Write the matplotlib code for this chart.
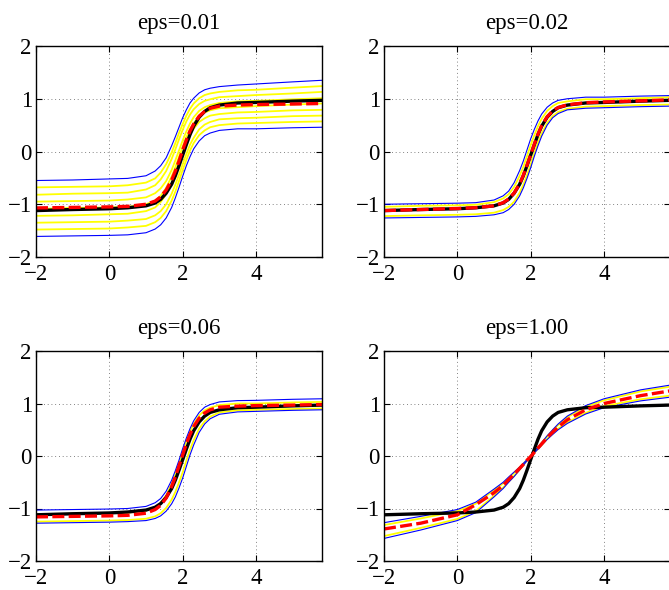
import numpy as np
import matplotlib
matplotlib.use('Agg')
import matplotlib.pyplot as plt

plt.rcParams['font.family'] = ['Liberation Serif', 'DejaVu Serif']

# common x grid (values at these x)
x = [-2, -1, 0, 0.5, 1, 1.25, 1.4, 1.55, 1.7, 1.8, 1.9, 2.0, 2.1, 2.2, 2.3, 2.45,
     2.6, 2.75, 3, 3.5, 4, 5, 5.8]

# true curve (black, same in every panel)
true_y = [-1.12, -1.10, -1.085, -1.067, -1.03, -0.976, -0.907, -0.79, -0.62, -0.46, -0.27,
          -0.07, 0.13, 0.32, 0.48, 0.65, 0.76, 0.83, 0.88, 0.92, 0.93, 0.955, 0.97]

titles = ['eps=0.01', 'eps=0.02', 'eps=0.06', 'eps=1.00']

# eps=0.01
mean_1 = [-1.07, -1.06, -1.05, -1.04, -1.00, -0.94, -0.86, -0.73, -0.54, -0.37, -0.18,
          0.03, 0.22, 0.39, 0.52, 0.67, 0.76, 0.82, 0.86, 0.88, 0.89, 0.90, 0.91]
upper_1 = [-0.55, -0.54, -0.52, -0.51, -0.46, -0.37, -0.27, -0.12, 0.11, 0.28, 0.46,
           0.64, 0.79, 0.92, 1.01, 1.11, 1.17, 1.20, 1.23, 1.26, 1.28, 1.32, 1.35]
lower_1 = [-1.61, -1.60, -1.59, -1.58, -1.54, -1.47, -1.39, -1.26, -1.06, -0.88, -0.68,
           -0.47, -0.27, -0.10, 0.05, 0.20, 0.30, 0.35, 0.40, 0.43, 0.43, 0.45, 0.46]
samples_1 = [
    [-0.68, -0.67, -0.66, -0.64, -0.59, -0.51, -0.40, -0.24, -0.02, 0.16, 0.35,
     0.52, 0.68, 0.81, 0.91, 1.01, 1.07, 1.10, 1.13, 1.16, 1.17, 1.21, 1.24],
    [-0.82, -0.80, -0.79, -0.78, -0.72, -0.64, -0.53, -0.37, -0.14, 0.04, 0.23,
     0.41, 0.57, 0.70, 0.80, 0.90, 0.96, 0.99, 1.03, 1.05, 1.07, 1.10, 1.13],
    [-0.95, -0.94, -0.93, -0.91, -0.87, -0.79, -0.70, -0.56, -0.35, -0.17, 0.02,
     0.21, 0.38, 0.53, 0.65, 0.77, 0.84, 0.88, 0.92, 0.95, 0.96, 0.99, 1.01],
    [-1.09, -1.07, -1.06, -1.05, -1.00, -0.93, -0.84, -0.69, -0.47, -0.30, -0.10,
     0.09, 0.27, 0.42, 0.54, 0.66, 0.74, 0.78, 0.82, 0.84, 0.86, 0.89, 0.91],
    [-1.22, -1.21, -1.19, -1.18, -1.13, -1.06, -0.96, -0.81, -0.60, -0.42, -0.22,
     -0.03, 0.16, 0.31, 0.43, 0.56, 0.63, 0.68, 0.71, 0.74, 0.75, 0.78, 0.79],
    [-1.35, -1.34, -1.33, -1.31, -1.28, -1.21, -1.13, -1.00, -0.80, -0.63, -0.44,
     -0.24, -0.05, 0.13, 0.26, 0.42, 0.51, 0.56, 0.61, 0.63, 0.64, 0.67, 0.68],
    [-1.48, -1.47, -1.46, -1.44, -1.41, -1.34, -1.26, -1.13, -0.93, -0.76, -0.56,
     -0.35, -0.16, 0.02, 0.16, 0.31, 0.40, 0.46, 0.50, 0.53, 0.54, 0.56, 0.57],
]

# eps=0.02
mean_2 = [-1.12, -1.10, -1.08, -1.065, -1.03, -0.97, -0.90, -0.785, -0.61, -0.45, -0.26,
          -0.06, 0.14, 0.33, 0.49, 0.66, 0.77, 0.835, 0.885, 0.925, 0.94, 0.96, 0.98]
upper_2 = [-1.00, -0.99, -0.98, -0.97, -0.92, -0.84, -0.75, -0.59, -0.36, -0.18, 0.03,
           0.24, 0.42, 0.58, 0.71, 0.84, 0.92, 0.97, 1.00, 1.03, 1.03, 1.05, 1.06]
lower_2 = [-1.26, -1.25, -1.24, -1.23, -1.20, -1.16, -1.10, -1.00, -0.84, -0.69, -0.51,
           -0.31, -0.09, 0.11, 0.29, 0.50, 0.64, 0.72, 0.79, 0.82, 0.83, 0.85, 0.86]
samples_2 = [
    [-1.05, -1.03, -1.02, -1.01, -0.96, -0.89, -0.81, -0.67, -0.46, -0.29, -0.09,
     0.12, 0.31, 0.48, 0.62, 0.77, 0.86, 0.92, 0.95, 0.99, 0.99, 1.01, 1.03],
    [-1.225, -1.21, -1.20, -1.19, -1.16, -1.11, -1.05, -0.95, -0.78, -0.63, -0.45,
     -0.25, -0.03, 0.165, 0.34, 0.54, 0.67, 0.75, 0.81, 0.85, 0.86, 0.88, 0.89],
]

# eps=0.06
mean_3 = [-1.16, -1.15, -1.14, -1.13, -1.09, -1.02, -0.94, -0.80, -0.58, -0.40, -0.19,
          0.02, 0.23, 0.41, 0.56, 0.72, 0.82, 0.88, 0.93, 0.95, 0.96, 0.97, 0.98]
upper_3 = [-1.03, -1.02, -1.01, -1.00, -0.96, -0.89, -0.81, -0.67, -0.46, -0.28, -0.08,
           0.14, 0.34, 0.52, 0.67, 0.83, 0.93, 0.98, 1.03, 1.055, 1.06, 1.08, 1.09]
lower_3 = [-1.28, -1.27, -1.26, -1.25, -1.23, -1.19, -1.14, -1.05, -0.91, -0.78, -0.61,
           -0.42, -0.20, 0.02, 0.21, 0.45, 0.61, 0.71, 0.795, 0.84, 0.85, 0.87, 0.88]
samples_3 = [
    [-1.11, -1.10, -1.09, -1.08, -1.04, -0.97, -0.89, -0.75, -0.53, -0.35, -0.14,
     0.07, 0.28, 0.46, 0.61, 0.77, 0.87, 0.92, 0.97, 1.00, 1.00, 1.02, 1.03],
    [-1.25, -1.24, -1.23, -1.22, -1.195, -1.15, -1.09, -0.99, -0.83, -0.685, -0.505,
     -0.31, -0.09, 0.12, 0.30, 0.52, 0.66, 0.75, 0.83, 0.87, 0.88, 0.895, 0.905],
]

# eps=1.00
mean_4 = [-1.39, -1.28, -1.12, -0.93, -0.70, -0.56, -0.45, -0.345, -0.235, -0.16, -0.08,
          -0.01, 0.07, 0.15, 0.23, 0.35, 0.455, 0.55, 0.69, 0.88, 1.00, 1.15, 1.24]
upper_4 = [-1.27, -1.15, -1.02, -0.88, -0.63, -0.50, -0.40, -0.305, -0.21, -0.14, -0.07,
           0.0, 0.08, 0.17, 0.255, 0.385, 0.50, 0.61, 0.76, 0.96, 1.09, 1.26, 1.35]
lower_4 = [-1.57, -1.41, -1.23, -1.08, -0.78, -0.62, -0.50, -0.39, -0.265, -0.18, -0.09,
           -0.02, 0.06, 0.13, 0.205, 0.315, 0.41, 0.50, 0.62, 0.80, 0.92, 1.05, 1.12]
samples_4 = [
    [-1.315, -1.19, -1.05, -0.91, -0.65, -0.52, -0.42, -0.32, -0.215, -0.146, -0.073,
     -0.003, 0.077, 0.164, 0.25, 0.375, 0.49, 0.59, 0.74, 0.94, 1.06, 1.23, 1.32],
    [-1.525, -1.37, -1.20, -1.05, -0.76, -0.60, -0.49, -0.38, -0.26, -0.174, -0.087,
     -0.017, 0.063, 0.136, 0.21, 0.325, 0.425, 0.52, 0.64, 0.82, 0.95, 1.08, 1.15],
]

means = [mean_1, mean_2, mean_3, mean_4]
uppers = [upper_1, upper_2, upper_3, upper_4]
lowers = [lower_1, lower_2, lower_3, lower_4]
samples = [samples_1, samples_2, samples_3, samples_4]

W, H = 669, 590
fig = plt.figure(figsize=(W / 100, H / 100), dpi=100)

# axes boxes in pixels: left, top, right, bottom
boxes = [(36, 46, 322, 257), (384, 46, 670, 257),
         (36, 351, 322, 561), (384, 351, 670, 561)]

for i in range(4):
    l, t, r, b = boxes[i]
    ax = fig.add_axes([l / W, 1 - b / H, (r - l) / W, (b - t) / H])

    for s in samples[i]:
        ax.plot(x, s, color='#ffff00', lw=1.3)
    ax.plot(x, uppers[i], color='#0000ff', lw=0.8)
    ax.plot(x, lowers[i], color='#0000ff', lw=0.8)
    ax.plot(x, true_y, color='black', lw=2.4)
    ax.plot(x, means[i], color='#ff0000', lw=2.4, linestyle=(0, (3.6, 1.3)))

    ax.set_xlim(-2, 5.8)
    ax.set_ylim(-2, 2)
    ax.set_xticks([-2, 0, 2, 4])
    ax.set_yticks([-2, -1, 0, 1, 2])
    ax.grid(True, color='0.35', linestyle=(0, (1, 3.5)), lw=0.6)
    ax.tick_params(direction='in', top=True, right=True, length=4, width=0.8,
                   labelsize=16.5)
    ax.tick_params(axis='x', pad=5)
    ax.tick_params(axis='y', pad=3)
    for sp in ax.spines.values():
        sp.set_linewidth(1.0)
    ax.set_title(titles[i], fontsize=16.5, pad=12)

fig.savefig('out.png', dpi=100)
